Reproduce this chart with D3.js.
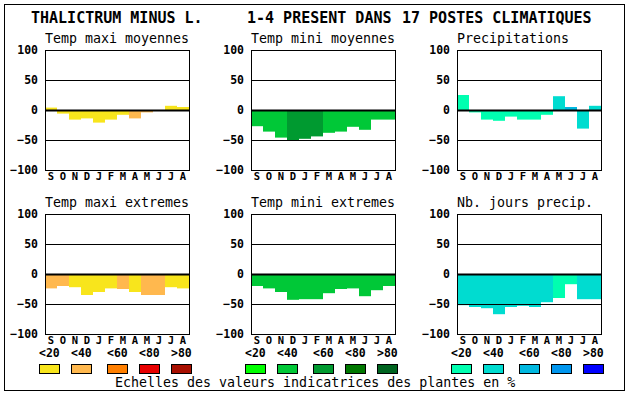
<!DOCTYPE html>
<html><head><meta charset="utf-8">
<script src="https://cdn.jsdelivr.net/npm/d3@7"></script>
<style>
html,body{margin:0;padding:0;background:#fff;}
svg{display:block;}
text{font-family:"DejaVu Sans Mono",monospace;fill:#000;}
</style></head>
<body>
<svg id="c" width="630" height="394"></svg>
<script>
const months = ["S","O","N","D","J","F","M","A","M","J","J","A"];
const yTicks = [100, 50, 0, -50, -100];
const legendLabels = ["<20","<40","<60","<80",">80"];

const warmColors  = ["#f8e51c","#ffb84e","#ff7f00","#e80000","#a80f00"];
const greenColors = ["#00ff00","#00c837","#009a30","#007800","#006420"];
const blueColors  = ["#00ffb0","#00dcd0","#00b8e0","#0096ee","#0000ff"];

const titles = ["THALICTRUM MINUS L.","1-4 PRESENT DANS","17 POSTES CLIMATIQUES"];
const panelTitles = ["Temp maxi moyennes","Temp mini moyennes","Precipitations",
                     "Temp maxi extremes","Temp mini extremes","Nb. jours precip."];

// values per panel
const tmaxMoy  = [4,-6,-16,-14,-21,-16,-8,-14,-4,0,7,5];
const tminMoy  = [-27,-36,-46,-50,-48,-44,-38,-36,-28,-33,-16,-16];
const precip   = [25,-4,-16,-18,-11,-16,-16,-8,23,5,-31,7];
const tmaxExt  = [-24,-20,-22,-35,-30,-24,-25,-30,-35,-35,-22,-24];
const tminExt  = [-20,-24,-30,-43,-42,-42,-32,-25,-24,-37,-27,-20];
const nbJours  = [-52,-55,-57,-67,-55,-53,-55,-47,-40,-17,-42,-42];

// colour class per bar (index into palette)
const tmaxMoyCls = [0,0,0,0,0,0,0,1,1,0,0,0];
const tminMoyCls = [1,1,1,2,2,2,1,1,1,1,1,1];
const precipCls  = [0,0,0,0,0,0,0,0,1,2,1,1];
const tmaxExtCls = [1,1,0,0,0,0,1,0,1,1,0,0];
const tminExtCls = [1,1,1,1,1,1,1,1,1,1,1,1];
const nbJoursCls = [1,1,1,1,1,1,1,1,0,0,1,1];

const panels = [
  {vals:tmaxMoy, cls:tmaxMoyCls, pal:warmColors},
  {vals:tminMoy, cls:tminMoyCls, pal:greenColors},
  {vals:precip,  cls:precipCls,  pal:blueColors},
  {vals:tmaxExt, cls:tmaxExtCls, pal:warmColors},
  {vals:tminExt, cls:tminExtCls, pal:greenColors},
  {vals:nbJours, cls:nbJoursCls, pal:blueColors}
];

const svg = d3.select("#c");
svg.append("rect").attr("x",4.5).attr("y",4.5).attr("width",620).attr("height",386)
  .attr("fill","none").attr("stroke","#000").attr("stroke-width",1);

// main title
const titleX = [31, 247, 402];
titles.forEach((t,i)=>{
  svg.append("text").attr("x",titleX[i]).attr("y",23)
    .attr("font-size",15).attr("font-weight","bold").text(t);
});

const colX = [45, 251, 457];
const rowY = [50, 214];
const W = 144, H = 120;

panels.forEach((p,i)=>{
  const px = colX[i%3], py = rowY[Math.floor(i/3)];
  const g = svg.append("g").attr("transform",`translate(${px},${py})`);
  const x = d3.scaleBand().domain(d3.range(12)).range([0,W]).padding(0);
  const y = d3.scaleLinear().domain([-100,100]).range([H,0]);

  svg.append("text").attr("x",px).attr("y",py-7).attr("font-size",13.3).text(panelTitles[i]);

  g.selectAll("rect.bar").data(p.vals).join("rect").attr("class","bar")
    .attr("x",(d,j)=>x(j)).attr("width",x.bandwidth())
    .attr("y",d=>y(Math.max(0,d))).attr("height",d=>Math.abs(y(d)-y(0)))
    .attr("fill",(d,j)=>p.pal[p.cls[j]]);

  // grid lines
  g.selectAll("line.grid").data([50,-50]).join("line").attr("class","grid")
    .attr("x1",0).attr("x2",W).attr("y1",d=>Math.round(y(d))+0.5).attr("y2",d=>Math.round(y(d))+0.5)
    .attr("stroke","#000").attr("stroke-width",1);
  g.append("line").attr("x1",0).attr("x2",W).attr("y1",y(0)+0.5).attr("y2",y(0)+0.5)
    .attr("stroke","#000").attr("stroke-width",2);

  g.append("rect").attr("x",0.5).attr("y",0.5).attr("width",W).attr("height",H)
    .attr("fill","none").attr("stroke","#000").attr("stroke-width",1);

  // y axis labels
  const yAxis = d3.axisLeft(y).tickValues(yTicks).tickSize(0).tickPadding(7);
  const ga = g.append("g").call(yAxis);
  ga.select(".domain").remove();
  ga.selectAll("text").attr("font-size",11.5).attr("font-weight","bold")
    .attr("font-family","'DejaVu Sans Mono',monospace").attr("fill","#000");

  // x axis labels
  const xAxis = d3.axisBottom(x).tickFormat(j=>months[j]).tickSize(0).tickPadding(3);
  const gx = g.append("g").attr("transform",`translate(0,${H})`).call(xAxis);
  gx.select(".domain").remove();
  gx.selectAll("text").attr("font-size",10.5).attr("font-weight","bold")
    .attr("font-family","'DejaVu Sans Mono',monospace").attr("fill","#000");
});

// legends
const legendOffsets = [0,32,68,100,132];
const legendPals = [warmColors, greenColors, blueColors];
const legendStart = [39, 245, 451];
legendPals.forEach((pal,gi)=>{
  legendLabels.forEach((lab,k)=>{
    const lx = legendStart[gi] + legendOffsets[k];
    svg.append("text").attr("x",lx).attr("y",357).attr("font-size",11.5)
      .attr("font-weight","bold").text(lab);
    svg.append("rect").attr("x",lx+0.5).attr("y",364.5).attr("width",20).attr("height",9)
      .attr("fill",pal[k]).attr("stroke","#000").attr("stroke-width",1);
  });
});

svg.append("text").attr("x",115).attr("y",387).attr("font-size",13.3)
  .text("Echelles des valeurs indicatrices des plantes en %");
</script>
</body></html>
